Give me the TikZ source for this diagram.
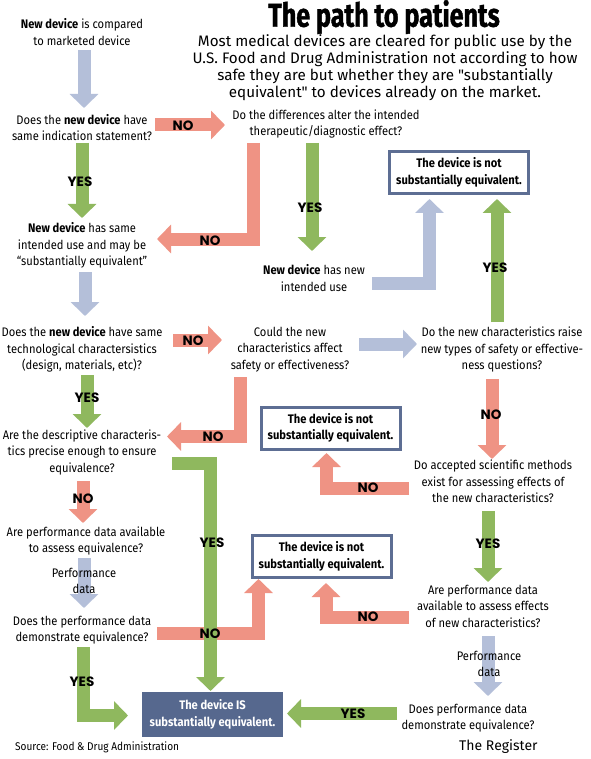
\documentclass[tikz,border=0pt]{standalone}
\usepackage{fontspec}
\usetikzlibrary{arrows.meta}
\setmainfont{Fira Sans}[FakeStretch=0.9]
\newfontfamily\subfont{Fira Sans}
\newfontfamily\titlefont{Fira Sans}[FakeStretch=0.76, BoldFeatures={FakeBold=1.2}]
\newfontfamily\lblfont{Poppins}
\definecolor{cblue}{HTML}{B4BFD9}
\definecolor{cgreen}{HTML}{8FB85E}
\definecolor{cred}{HTML}{EF9384}
\definecolor{cbox}{HTML}{5D6E93}
\definecolor{cfill}{HTML}{56688E}
\tikzset{
  txt/.style={align=center, inner sep=0pt, font=\fontsize{12.4}{16.5}\selectfont},
  arr/.style={line width=13pt, line join=miter, -{Triangle[width=28pt,length=14pt]}},
  barrow/.style={arr, draw=cblue},
  garrow/.style={arr, draw=cgreen},
  rarrow/.style={arr, draw=cred},
  lbl/.style={inner sep=0pt, font=\lblfont\bfseries\fontsize{13.5}{14}\selectfont},
  plbl/.style={inner sep=0pt, align=center, font=\fontsize{12.4}{16}\selectfont},
  nebox/.style={draw=cbox, line width=3pt, fill=white, minimum width=139pt, minimum height=42pt, align=center, inner sep=0pt, font=\bfseries\fontsize{12.4}{16.5}\selectfont},
  isbox/.style={fill=cfill, text=white, minimum width=141pt, minimum height=45pt, align=center, inner sep=0pt, font=\bfseries\fontsize{12.4}{16.5}\selectfont},
}
\begin{document}
\begin{tikzpicture}[x=1pt,y=-1pt]
\useasboundingbox (0,0) rectangle (590,759);
\fill[white] (0,0) rectangle (590,759);

% title and intro
\node[inner sep=0pt, font=\titlefont\bfseries\fontsize{33}{34}\selectfont] (title) at (384,17) {The path to patients};
\node[align=center, inner sep=0pt, font=\subfont\fontsize{15.2}{17}\selectfont] (intro) at (385,68)
 {Most medical devices are cleared for public use by the\\
  U.S. Food and Drug Administration not according to how\\
  safe they are but whether they are "substantially\\
  equivalent" to devices already on the market.};

% text nodes
\node[txt] (n1) at (82,32) {\textbf{New device} is compared\\to marketed device};
\node[txt] (n2) at (82,127.5) {Does the \textbf{new device} have\\same indication statement?};
\node[txt] (n3) at (326,124) {Do the differences alter the intended\\therapeutic/diagnostic effect?};
\node[txt] (n4) at (82,245.5) {\textbf{New device} has same\\intended use and may be\\``substantially equivalent''};
\node[txt] (n5) at (314,278) {\textbf{New device} has new\\intended use};
\node[txt] (n6) at (82,349.5) {Does the \textbf{new device} have same\\technological charactersistics\\(design, materials, etc)?};
\node[txt] (n7) at (290,349.5) {Could the new\\characteristics affect\\safety or effectiveness?};
\node[txt] (n8) at (502,349.5) {Do the new characteristics raise\\new types of safety or effective-\\ness questions?};
\node[txt] (n9) at (82,452) {Are the descriptive characteris-\\tics precise enough to ensure\\equivalence?};
\node[txt] (n10) at (493,481.5) {Do accepted scientific methods\\exist for assessing effects of\\the new characteristics?};
\node[txt] (n11) at (86,541) {Are performance data available\\to assess equivalence?};
\node[txt] (n12) at (82,630) {Does the performance data\\demonstrate equivalence?};
\node[txt] (n13) at (483,606) {Are performance data\\available to assess effects\\of new characteristics?};
\node[txt] (n14) at (468,718) {Does performance data\\demonstrate equivalence?};

% boxes
\node[nebox] (ne1) at (459,172.5) {The device is not\\substantially equivalent.};
\node[nebox] (ne2) at (330.5,428) {The device is not\\substantially equivalent.};
\node[nebox] (ne3) at (321.5,556.5) {The device is not\\substantially equivalent.};

% connector points
\coordinate (a1s) at (84,50);   \coordinate (a1e) at (84,108);
\coordinate (a2s) at (155,125); \coordinate (a2e) at (225,125);
\coordinate (a3s) at (82,143);  \coordinate (a3e) at (82,218);
\coordinate (a4s) at (253.5,143); \coordinate (a4e) at (157,239);
\coordinate (a5s) at (85,272);  \coordinate (a5e) at (85,316);
\coordinate (a6s) at (312,143); \coordinate (a6e) at (312,251);
\coordinate (a7s) at (372,283); \coordinate (a7e) at (429.5,199);
\coordinate (a8s) at (497,322); \coordinate (a8e) at (497,199);
\coordinate (a9s) at (173,340); \coordinate (a9e) at (222,340);
\coordinate (a10s) at (359,344); \coordinate (a10e) at (417,344);
\coordinate (a11s) at (492,379); \coordinate (a11e) at (492,459);
\coordinate (a12s) at (87,375); \coordinate (a12e) at (87,428);
\coordinate (a13s) at (240,377); \coordinate (a13e) at (167,436.5);
\coordinate (a14s) at (409,488); \coordinate (a14e) at (326.5,453);
\coordinate (a15s) at (488,511); \coordinate (a15e) at (488,582);
\coordinate (a16s) at (83,481); \coordinate (a16e) at (83,523);
\coordinate (a17s) at (84,558); \coordinate (a17e) at (84,608);
\coordinate (a18s) at (83,647); \coordinate (a18e) at (128,715.5);
\coordinate (a19s) at (172,463); \coordinate (a19e) at (210.5,691);
\coordinate (a20s) at (157,633); \coordinate (a20e) at (258.5,579);
\coordinate (a21s) at (409,617.5); \coordinate (a21e) at (326,583);
\coordinate (a22s) at (488,636); \coordinate (a22e) at (488,696);
\coordinate (a23s) at (397,713.5); \coordinate (a23e) at (287,713.5);

% arrows
\draw[barrow] (a1s) -- (a1e);
\draw[rarrow] (a2s) -- (a2e);
\draw[garrow] (a3s) -- (a3e);
\draw[rarrow] (a4s) |- (a4e);
\draw[barrow] (a5s) -- (a5e);
\draw[garrow] (a6s) -- (a6e);
\draw[barrow] (a7s) -| (a7e);
\draw[garrow] (a8s) -- (a8e);
\draw[rarrow] (a9s) -- (a9e);
\draw[barrow] (a10s) -- (a10e);
\draw[rarrow] (a11s) -- (a11e);
\draw[garrow] (a12s) -- (a12e);
\draw[rarrow] (a13s) |- (a13e);
\draw[rarrow] (a14s) -| (a14e);
\draw[garrow] (a15s) -- (a15e);
\draw[rarrow] (a16s) -- (a16e);
\draw[barrow] (a17s) -- (a17e);
\draw[garrow] (a18s) |- (a18e);
\draw[rarrow] (a20s) -| (a20e);
\draw[garrow] (a19s) -| (a19e);
\draw[rarrow] (a21s) -| (a21e);
\draw[barrow] (a22s) -- (a22e);
\draw[garrow] (a23s) -- (a23e);

% final box
\node[isbox] (eq) at (212.5,714.5) {The device IS\\substantially equivalent.};

% arrow labels
\node[lbl] (l2) at (183,126) {NO};
\node[lbl] (l3) at (80,182) {YES};
\node[lbl] (l4) at (210,241) {NO};
\node[lbl] (l6) at (310,208) {YES};
\node[lbl] (l8) at (495,268) {YES};
\node[lbl] (l9) at (193,341) {NO};
\node[lbl] (l11) at (491,415) {NO};
\node[lbl] (l12) at (87,398) {YES};
\node[lbl] (l13) at (213,437) {NO};
\node[lbl] (l14) at (368,488) {NO};
\node[lbl] (l15) at (488,544) {YES};
\node[lbl] (l16) at (83,499) {NO};
\node[plbl] (l17) at (84,581) {Performance\\data};
\node[lbl] (l18) at (82,682) {YES};
\node[lbl] (l19) at (212,543) {YES};
\node[lbl] (l20) at (210,634) {NO};
\node[lbl] (l21) at (368,617) {NO};
\node[plbl] (l22) at (489,664) {Performance\\data};
\node[lbl] (l23) at (353,714) {YES};

% footer
\node[anchor=west, inner sep=0pt, font=\fontsize{11.2}{12}\selectfont] (src) at (15,747) {Source: Food \& Drug Administration};
\node[anchor=west, inner sep=0pt, font=\subfont\fontsize{14}{15}\selectfont] (reg) at (459,747) {The Register};
\end{tikzpicture}
\end{document}
